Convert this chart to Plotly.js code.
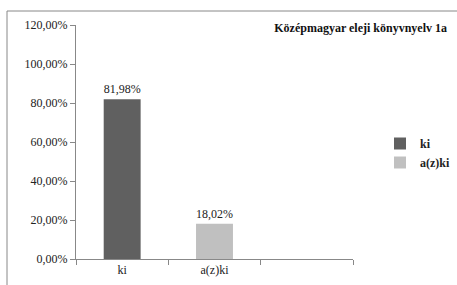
<!DOCTYPE html>
<html><head><meta charset="utf-8">
<script src="https://cdn.plot.ly/plotly-3.0.1.min.js"></script>
<style>body{margin:0;background:#fff}#c{width:457px;height:285px}</style>
</head><body><div id="c"></div>
<script>
const categories = ['ki', 'a(z)ki', ' '];
const seriesNames = ['ki', 'a(z)ki'];
const values = [0.8198, 0.1802];
const colors = ['#606060', '#c0c0c0'];
const titleText = 'Középmagyar eleji könyvnyelv 1a';

const font = 'Liberation Serif';
const traces = seriesNames.map((n, i) => ({
  type: 'bar', name: n, x: [categories[i]], y: [values[i]],
  width: 0.4, marker: {color: colors[i]},
  texttemplate: '%{y:.2%}', textposition: 'outside', cliponaxis: false,
  textfont: {family: font, size: 12, color: '#222'}
}));
traces.push({type: 'bar', x: categories, y: [null, null, null], showlegend: false, hoverinfo: 'skip'});

const layout = {
  width: 457, height: 285,
  margin: {l: 76, r: 104, t: 25, b: 26, autoexpand: false},
  separators: ', ',
  barmode: 'overlay',
  paper_bgcolor: '#fff', plot_bgcolor: '#fff',
  font: {family: font, size: 12, color: '#222'},
  title: {text: '<b>' + titleText + '</b>', xref: 'container', yref: 'container',
    x: 447/457, xanchor: 'right', y: 1 - 28/285, yanchor: 'middle',
    font: {family: font, size: 12, color: '#111'}},
  xaxis: {type: 'category', categoryorder: 'array', categoryarray: categories,
    range: [-0.5, 2.5], tickson: 'boundaries', ticks: 'outside', ticklen: 5,
    tickcolor: '#888', showline: true, linecolor: '#888', linewidth: 1,
    showgrid: false, tickfont: {family: font, size: 12, color: '#222'}, fixedrange: true},
  yaxis: {range: [0, 1.2], dtick: 0.2, tickformat: '.2%', ticks: 'outside', ticklen: 5,
    tickcolor: '#888', showline: true, linecolor: '#888', linewidth: 1,
    showgrid: false, zeroline: false, tickfont: {family: font, size: 12, color: '#222'}},
  legend: {xref: 'container', yref: 'container', x: 380/457, xanchor: 'left', y: 1 - 153/285, yanchor: 'middle',
    font: {family: font, size: 12, color: '#222', weight: 'bold'},
    itemwidth: 30, tracegroupgap: 2, bgcolor: 'rgba(0,0,0,0)'},
  shapes: [{type: 'rect', xref: 'paper', yref: 'paper',
    x0: (7 - 76) / 277, x1: (470 - 76) / 277, y0: (259 - 300) / 234, y1: (259 - 11) / 234,
    line: {color: '#888', width: 1}, layer: 'below'}],
  showlegend: true
};
Plotly.newPlot('c', traces, layout, {staticPlot: true});
</script></body></html>
